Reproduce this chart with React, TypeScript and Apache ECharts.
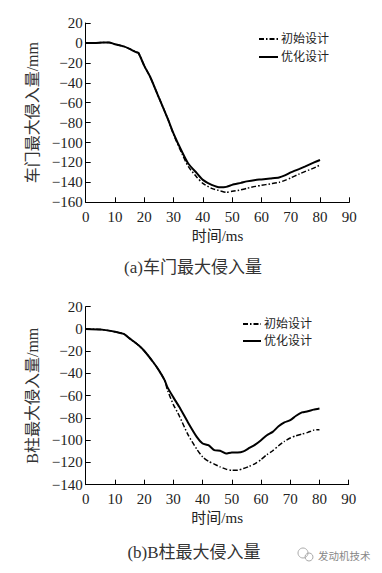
import React, { useEffect, useRef } from "react";
import * as echarts from "echarts";

const seriesNames = ["初始设计", "优化设计"];

// Chart (a): door max intrusion
const timeA = [0, 3, 6, 8, 10, 13, 15, 17, 18, 20, 22, 25, 28, 30, 33, 35, 38, 40, 43, 46, 48, 50, 53, 55, 58, 60, 63, 66, 68, 70, 73, 75, 78, 80];
const doorOpt = [0, 0, 0.5, 0.5, -1.3, -3.5, -6, -9, -10, -23, -34, -55, -76, -91, -110, -121, -131, -137.5, -142.5, -145, -144.5, -142.5, -140.5, -139, -137.5, -137, -136, -135, -133, -130, -126.5, -124, -120, -117.5];
const doorInit = [0, 0, 0.5, 0.5, -1.3, -3.5, -6, -9, -10, -23, -34, -55, -76, -92, -112, -124, -135, -141, -146, -148.5, -150, -149, -147.5, -146, -144, -143, -141.5, -140, -138, -135.5, -131.5, -129, -125.5, -122.5];

// Chart (b): B-pillar max intrusion
const timeB = [0, 5, 8, 10, 13, 15, 18, 20, 23, 25, 27, 28, 30, 32, 35, 38, 40, 42, 44, 46, 48, 50, 52, 54, 56, 58, 60, 62, 64, 66, 68, 70, 72, 74, 76, 78, 80];
const pillarOpt = [0, -0.5, -1.5, -2.5, -4.5, -8.5, -14.5, -19.6, -29.5, -37, -46, -52.5, -61.5, -70, -84, -97, -103, -104.5, -109, -109.5, -112, -111, -111, -110, -107, -104, -100, -95.5, -92.5, -87.5, -84, -82, -78, -75, -74, -72.5, -71.5];
const pillarInit = [0, -0.5, -1.5, -2.5, -4.5, -8.5, -14.5, -19.6, -29.5, -37, -46, -55, -68, -78, -95, -108, -115, -119, -121.5, -124, -126, -127, -127, -125.5, -123.5, -121, -117.5, -113, -109.5, -105, -101, -98, -96, -94.5, -93, -91, -90.5];

const xTicks = { min: 0, max: 90, interval: 10 };
const yTicksA = { min: -160, max: 20, interval: 20 };
const yTicksB = { min: -140, max: 20, interval: 20 };

const yNameA = "车门最大侵入量/mm";
const yNameB = "B柱最大侵入量/mm";
const xName = "时间/ms";
const captionA = "(a)车门最大侵入量";
const captionB = "(b)B柱最大侵入量";
const watermark = "发动机技术";

const FONT = "'Liberation Serif', 'Noto Sans CJK SC', serif";
const pairs = (xs: number[], ys: number[]) => xs.map((x, i) => [x, ys[i]]);

export default function App() {
  const ref = useRef<HTMLDivElement>(null);
  useEffect(() => {
    if (!ref.current) return;
    const chart = echarts.init(ref.current, undefined, { renderer: "svg" });
    const axisCommon = {
      axisLine: { show: true, onZero: false, lineStyle: { color: "#000", width: 1 } },
      axisTick: { show: true, inside: true, length: 5, lineStyle: { color: "#000" } },
      splitLine: { show: false },
      axisLabel: {
        color: "#222",
        fontSize: 15,
        fontFamily: FONT,
        formatter: (v: number) => String(v).replace("-", "\u2212"),
      },
    };
    const xAxis = (gi: number) => ({
      type: "value",
      gridIndex: gi,
      ...xTicks,
      ...axisCommon,
      axisLabel: { ...axisCommon.axisLabel, margin: 7 },
      name: xName,
      nameLocation: "middle",
      nameGap: 26,
      nameTextStyle: { color: "#222", fontSize: 15, fontFamily: FONT, verticalAlign: "top" },
    });
    const yAxis = (gi: number, t: any, name: string) => ({
      type: "value",
      gridIndex: gi,
      ...t,
      ...axisCommon,
      axisLabel: { ...axisCommon.axisLabel, margin: 3 },
      name,
      nameLocation: "middle",
      nameRotate: 90,
      nameGap: 48,
      nameTextStyle: { color: "#333", fontSize: 16, fontFamily: FONT, verticalAlign: "middle" },
    });
    const dashDot = [5, 2, 1.5, 2];
    const mk = (name: string, xi: number, data: number[][], init: boolean) => ({
      name,
      type: "line",
      xAxisIndex: xi,
      yAxisIndex: xi,
      data,
      showSymbol: false,
      symbol: "none",
      smooth: 0.2,
      lineStyle: init
        ? { color: "#000", width: 1.5, type: dashDot }
        : { color: "#000", width: 2 },
      itemStyle: { color: "#000" },
    });
    const legendCommon = {
      orient: "vertical",
      itemHeight: 12,
      data: seriesNames,
      itemStyle: { opacity: 0 },
      textStyle: { color: "#222", fontSize: 12, fontFamily: FONT, padding: [0, 0, 0, -2] },
      selectedMode: false,
    };
    chart.setOption({
      animation: false,
      backgroundColor: "#fff",
      grid: [
        { left: 85.7, right: 32.7, top: 23, height: 179.3, containLabel: false },
        { left: 85.7, right: 33.3, top: 306.7, height: 178, containLabel: false },
      ],
      xAxis: [xAxis(0), xAxis(1)],
      yAxis: [yAxis(0, yTicksA, yNameA), yAxis(1, yTicksB, yNameB)],
      legend: [
        { ...legendCommon, left: 253, top: 28, itemWidth: 19, itemGap: 6 },
        { ...legendCommon, left: 237, top: 313, itemWidth: 18, itemGap: 5 },
      ],
      series: [
        mk(seriesNames[0], 0, pairs(timeA, doorInit), true),
        mk(seriesNames[1], 0, pairs(timeA, doorOpt), false),
        mk(seriesNames[0], 1, pairs(timeB, pillarInit), true),
        mk(seriesNames[1], 1, pairs(timeB, pillarOpt), false),
      ],
      graphic: [
        {
          type: "text",
          x: 193,
          y: 267,
          style: { text: captionA, fill: "#333", fontSize: 17, fontFamily: FONT, textAlign: "center", textVerticalAlign: "middle" },
        },
        {
          type: "text",
          x: 194,
          y: 552,
          style: { text: captionB, fill: "#333", fontSize: 17, fontFamily: FONT, textAlign: "center", textVerticalAlign: "middle" },
        },
        {
          type: "circle",
          shape: { cx: 303, cy: 553, r: 5 },
          style: { fill: "none", stroke: "#aaa", lineWidth: 1 },
        },
        {
          type: "circle",
          shape: { cx: 309, cy: 557, r: 4 },
          style: { fill: "none", stroke: "#aaa", lineWidth: 1 },
        },
        {
          type: "text",
          x: 318,
          y: 555,
          style: { text: watermark, fill: "#888", fontSize: 10.5, fontFamily: "'Noto Sans CJK SC', sans-serif", textVerticalAlign: "middle" },
        },
      ],
    });
    return () => chart.dispose();
  }, []);
  return (
    <div
      ref={ref}
      style={{ position: "absolute", left: 0, top: 0, width: 382, height: 573, background: "#fff" }}
    />
  );
}
